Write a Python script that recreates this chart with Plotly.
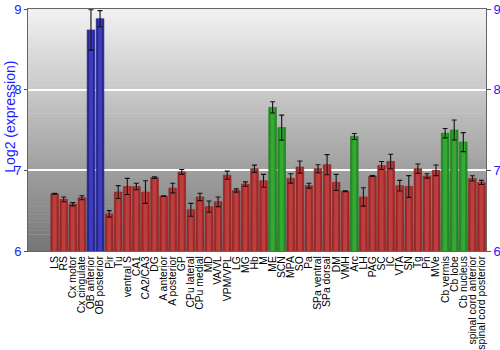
import plotly.graph_objects as go

categories = ["LS", "RS", "Cx motor", "Cx cingulate", "OB anterior", "OB posterior", "Pir", "Tu",
              "ventral S", "CA1", "CA2/CA3", "DG", "A anterior", "A posterior", "GP", "CPu lateral",
              "CPu medial", "MD", "VA/VL", "VPM/VPL", "LG", "MG", "Hb", "M", "ME", "SCN", "MPA", "SO",
              "Pa", "SPa ventral", "SPa dorsal", "DM", "VMH", "Arc", "LH", "PAG", "SC", "IC", "VTA",
              "SN", "Tg", "Pn", "MVe", "Cb vermis", "Cb lobe", "Cb nucleus",
              "spinal cord anterior", "spinal cord posterior"]
values = [6.71, 6.64, 6.58, 6.66, 8.74, 8.88, 6.46, 6.73,
          6.80, 6.80, 6.73, 6.91, 6.68, 6.78, 6.98, 6.51,
          6.67, 6.55, 6.61, 6.94, 6.75, 6.83, 7.02, 6.87, 7.78, 7.53, 6.90, 7.04,
          6.81, 7.02, 7.07, 6.85, 6.74, 7.42, 6.67, 6.93, 7.06, 7.11, 6.81,
          6.80, 7.02, 6.93, 7.00, 7.46, 7.50, 7.35,
          6.90, 6.85]
errors = [0.005, 0.03, 0.02, 0.025, 0.25, 0.10, 0.04, 0.08,
          0.10, 0.04, 0.14, 0.01, 0.005, 0.06, 0.03, 0.08,
          0.045, 0.07, 0.06, 0.05, 0.02, 0.027, 0.045, 0.08, 0.07, 0.155, 0.058, 0.075,
          0.03, 0.05, 0.125, 0.10, 0.005, 0.037, 0.114, 0.005, 0.05, 0.09, 0.066,
          0.135, 0.058, 0.027, 0.066, 0.058, 0.124, 0.118,
          0.033, 0.025]
groups = ["r"] * 4 + ["b"] * 2 + ["r"] * 18 + ["g"] * 2 + ["r"] * 7 + ["g"] + ["r"] * 9 + ["g"] * 3 + ["r"] * 2
y_ticks = [6, 7, 8, 9]
y_title = "Log2 (expression)"

base_col = {"r": "#a52727", "b": "#26269c", "g": "#238f23"}
hi_col = {"r": "#c24646", "b": "#4444c6", "g": "#3aae3a"}
edge_col = {"r": "#8a1e1e", "b": "#1e1e80", "g": "#1b731b"}

W, H = 500, 350
L, R, T, B = 28, 14, 9, 99

fig = go.Figure()
fig.add_trace(go.Bar(x=categories, y=values, width=0.84,
                     marker=dict(color=[base_col[g] for g in groups],
                                 line=dict(color=[edge_col[g] for g in groups], width=0.6)),
                     hoverinfo="skip", showlegend=False))
fig.add_trace(go.Bar(x=categories, y=values, width=0.42,
                     marker=dict(color=[hi_col[g] for g in groups], line=dict(width=0), opacity=0.8),
                     error_y=dict(type="data", array=errors, color="#111111", thickness=1.1, width=2.5),
                     showlegend=False))
fig.add_trace(go.Scatter(x=[categories[0]], y=[None], yaxis="y2", showlegend=False, hoverinfo="skip"))

# gradient background
n = 60
shapes = []
top = (242, 242, 242)
bot = (118, 118, 118)
for i in range(n):
    t = (i + 0.5) / n
    c = tuple(int(round(top[k] * (1 - t) + bot[k] * t)) for k in range(3))
    shapes.append(dict(type="rect", xref="x domain", yref="y domain", x0=0, x1=1,
                       y0=1 - (i + 1) / n, y1=1 - i / n + 0.002, layer="below",
                       fillcolor="rgb(%d,%d,%d)" % c, line=dict(width=0)))
fig.update_layout(shapes=shapes)

blue = "#1a1aff"
fig.add_annotation(text=y_title, xref="x domain", yref="y domain", x=0, y=0.555,
                   xanchor="center", yanchor="middle", textangle=-90, showarrow=False,
                   xshift=-18, font=dict(size=14, color=blue))
x_dom = [L / W, (W - R) / W]
y_dom = [B / H, (H - T) / H]
fig.update_layout(
    width=W, height=H,
    margin=dict(l=0, r=0, t=0, b=0, pad=0, autoexpand=False),
    paper_bgcolor="white", plot_bgcolor="rgba(0,0,0,0)",
    barmode="overlay", showlegend=False,
    font=dict(family="Liberation Sans, Arial", size=11, color="black"),
    xaxis=dict(domain=x_dom, tickangle=-90, tickfont=dict(size=10.4, color="black"), showgrid=False,
               tickmode="array", tickvals=categories, ticktext=categories, automargin=False,
               showline=True, linecolor="#666666", mirror=True, ticks="", ticklen=0),
    yaxis=dict(domain=y_dom, range=[6, 9], tickvals=y_ticks, tickfont=dict(size=13, color=blue),
               automargin=False, showgrid=True, gridcolor="white", gridwidth=1.5, zeroline=False,
               showline=True, linecolor="#666666", ticks="outside", ticklen=3, tickcolor="#555555"),
    yaxis2=dict(range=[6, 9], tickvals=y_ticks, overlaying="y", side="right", automargin=False,
                tickfont=dict(size=13, color=blue), showgrid=False, zeroline=False,
                showline=True, linecolor="#666666", ticks="outside", ticklen=4, tickcolor="#555555"),
)

fig.write_html("out.html")
